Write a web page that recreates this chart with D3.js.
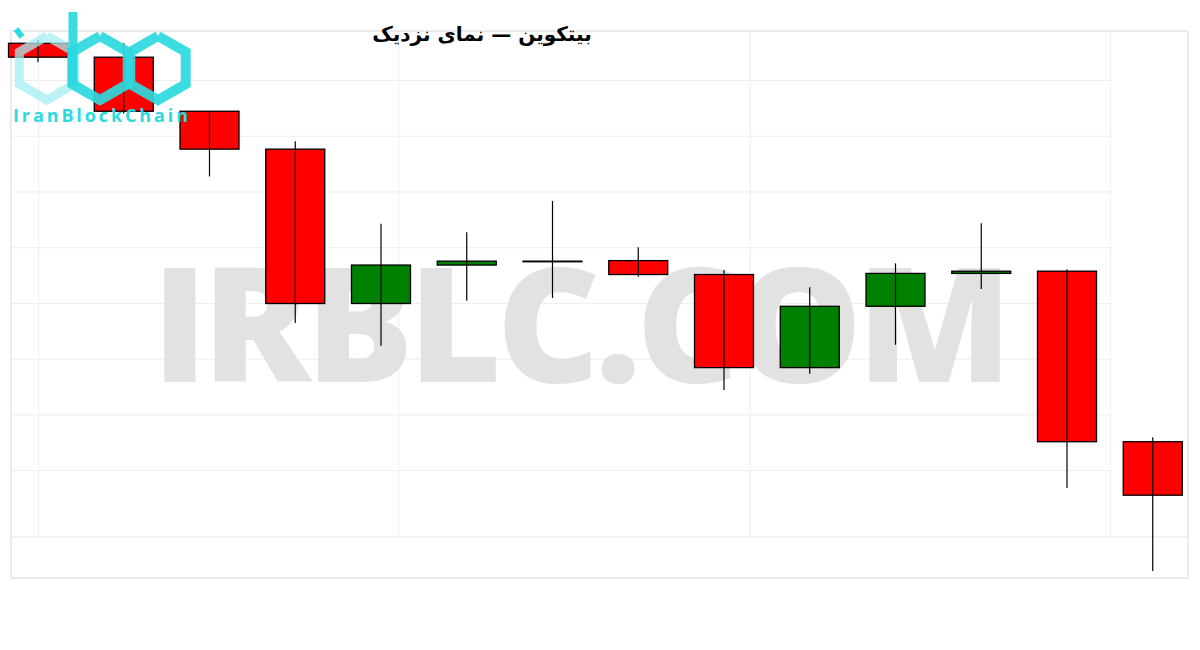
<!DOCTYPE html>
<html>
<head>
<meta charset="utf-8">
<script src="https://cdn.jsdelivr.net/npm/d3@7"></script>
<style>
  body { margin: 0; background: #fff; }
</style>
</head>
<body>
<div class="chart"></div>
<script>
// candle data (price in USD)
let opens  = [27766, 27741, 27644, 27576, 27299, 27368, 27375, 27376, 27351, 27184, 27294, 27353, 27357, 27051];
let closes = [27741, 27644, 27576, 27299, 27368, 27375, 27375, 27351, 27184, 27294, 27353, 27357, 27051, 26955];
let highs  = [27772, 27766, 27644, 27590, 27442, 27427, 27483, 27400, 27359, 27328, 27371, 27443, 27360, 27059];
let lows   = [27732, 27640, 27527, 27264, 27223, 27304, 27309, 27347, 27144, 27173, 27225, 27325, 26968, 26819];
let yTicks = [27000, 27100, 27200, 27300, 27400, 27500, 27600, 27700];
let xTicks = [0, 4.2, 8.3, 12.5];

let title = 'بیتکوین — نمای نزدیک';

let width = 1200, height = 650;
let frame = {left: 11, right: 1188, top: 31, bottom: 578};
let plot = {right: 1112, bottom: 537};

let svg = d3.select('.chart')
	.append('svg')
	.attr('width', width)
	.attr('height', height);

let xScale = d3.scaleLinear()
	.domain([0, opens.length - 1])
	.range([38, 1152.75]);

let yScale = d3.scaleLinear()
	.domain([26880, 27788])
	.range([plot.bottom, frame.top]);

let step = xScale(1) - xScale(0);
let bodyW = step * 0.688;

// grid
let yGrid = d3.axisLeft(yScale)
	.tickValues(yTicks)
	.tickSize(-(plot.right - frame.left))
	.tickFormat('');

svg.append('g')
	.attr('class', 'grid')
	.attr('transform', 'translate(' + frame.left + ',0)')
	.call(yGrid)
	.call(g => g.select('.domain').remove())
	.selectAll('line')
	.style('stroke', '#eeeeee');

let xGrid = d3.axisBottom(xScale)
	.tickValues(xTicks)
	.tickSize(-(plot.bottom - frame.top))
	.tickFormat('');

svg.append('g')
	.attr('transform', 'translate(0,' + plot.bottom + ')')
	.call(xGrid)
	.call(g => g.select('.domain').remove())
	.selectAll('line')
	.style('stroke', '#eeeeee');

svg.append('line')
	.attr('x1', frame.left).attr('x2', frame.right)
	.attr('y1', plot.bottom).attr('y2', plot.bottom)
	.style('stroke', '#ededed')
	.style('stroke-width', 1.5);

svg.append('rect')
	.attr('x', frame.left)
	.attr('y', frame.top)
	.attr('width', frame.right - frame.left)
	.attr('height', frame.bottom - frame.top)
	.style('fill', 'none')
	.style('stroke', '#ebebeb')
	.style('stroke-width', 2);

// watermark
svg.append('text')
	.attr('x', 152)
	.attr('y', 382)
	.attr('textLength', 860)
	.attr('lengthAdjust', 'spacing')
	.style('font-family', 'Open Sans, sans-serif')
	.style('font-weight', 800)
	.style('font-size', '160px')
	.style('fill', '#e2e2e2')
	.text('IRBLC.COM');

// candles
let candles = svg.append('g')
	.selectAll('g')
	.data(opens.map((o, i) => ({i: i, o: o, c: closes[i], h: highs[i], l: lows[i]})))
	.enter()
	.append('g');

candles.append('rect')
	.attr('x', d => xScale(d.i) - bodyW / 2)
	.attr('y', d => yScale(Math.max(d.o, d.c)))
	.attr('width', bodyW)
	.attr('height', d => Math.max(0.6, Math.abs(yScale(d.o) - yScale(d.c))))
	.style('fill', d => d.c > d.o ? '#008000' : '#ff0000')
	.style('stroke', '#000')
	.style('stroke-width', 1.3);

candles.append('line')
	.attr('x1', d => xScale(d.i))
	.attr('x2', d => xScale(d.i))
	.attr('y1', d => yScale(d.h))
	.attr('y2', d => yScale(d.l))
	.style('stroke', '#000')
	.style('stroke-width', 1.2);

// title
svg.append('text')
	.attr('x', 482)
	.attr('y', 41)
	.attr('text-anchor', 'middle')
	.attr('direction', 'rtl')
	.style('font-family', 'DejaVu Sans, sans-serif')
	.style('font-weight', 'bold')
	.style('font-size', '20px')
	.style('fill', '#000')
	.text(title);

// logo
let logo = svg.append('g').attr('class', 'logo');
let hex = (cx, cy, r) => d3.range(7).map(k => {
	let a = Math.PI / 3 * k - Math.PI / 2;
	return [cx + r * Math.cos(a), cy + r * Math.sin(a)];
});
logo.append('path')
	.attr('d', d3.line()(hex(47, 68, 32)))
	.style('fill', 'none')
	.style('stroke', '#a4eef2')
	.style('stroke-width', 9)
	.style('stroke-linejoin', 'miter')
	.style('opacity', 0.75);
logo.append('line')
	.attr('x1', 16).attr('y1', 29)
	.attr('x2', 22).attr('y2', 37)
	.style('stroke', '#2cd9e0')
	.style('stroke-width', 6);
logo.append('path')
	.attr('d', d3.line()(hex(100, 68, 32)))
	.style('fill', 'none')
	.style('stroke', '#2cd9e0')
	.style('stroke-width', 10)
	.style('opacity', 0.92);
logo.append('path')
	.attr('d', d3.line()(hex(158, 68, 32)))
	.style('fill', 'none')
	.style('stroke', '#2cd9e0')
	.style('stroke-width', 10)
	.style('opacity', 0.92);
logo.append('line')
	.attr('x1', 73).attr('x2', 73)
	.attr('y1', 12).attr('y2', 86)
	.style('stroke', '#2cd9e0')
	.style('stroke-width', 9)
	.style('opacity', 0.92);
logo.append('text')
	.attr('x', 13)
	.attr('y', 122)
	.attr('textLength', 175)
	.style('font-family', 'Open Sans, sans-serif')
	.style('font-weight', 700)
	.style('font-size', '18px')
	.style('fill', '#2cd9e0')
	.text('IranBlockChain');
</script>
</body>
</html>
